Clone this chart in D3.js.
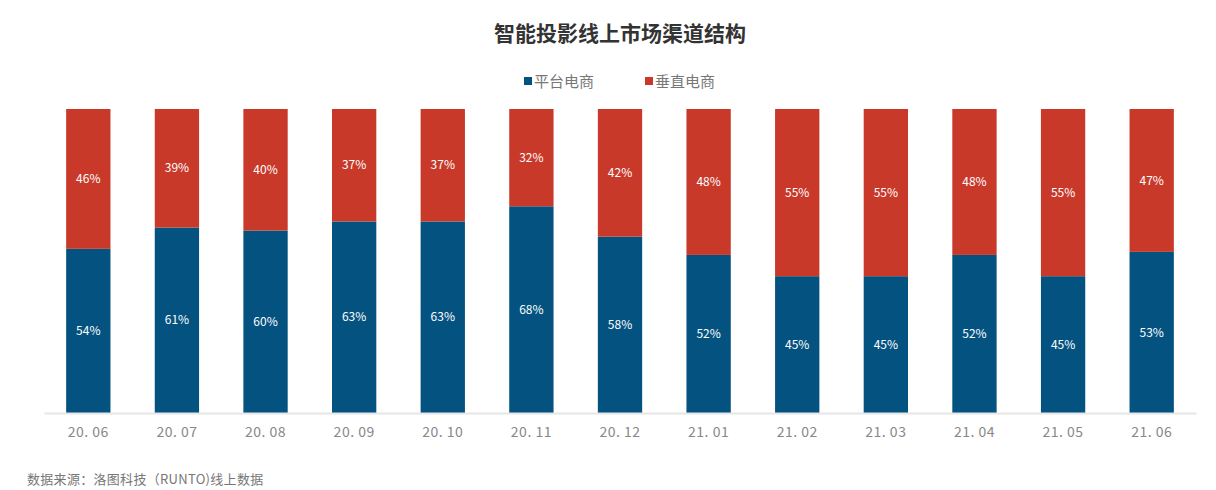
<!DOCTYPE html>
<html><head><meta charset="utf-8">
<script src="https://cdn.jsdelivr.net/npm/d3@7/dist/d3.min.js"></script>
<style>body{margin:0;background:#fff;}svg{display:block;}</style>
</head><body><svg id="c" width="1216" height="490"></svg>
<script>
const categories = ["20.06","20.07","20.08","20.09","20.10","20.11","20.12","21.01","21.02","21.03","21.04","21.05","21.06"];
const platform = [54,61,60,63,63,68,58,52,45,45,52,45,53];
const vertical = [46,39,40,37,37,32,42,48,55,55,48,55,47];
const seriesNames = ["平台电商","垂直电商"];
const colors = ["#04527f","#c8392a"];

const svg = d3.select("#c");
const font = "'Noto Sans CJK SC', 'Noto Sans', sans-serif";
const m = {l:44, r:20, t:109, b:77};
const W = 1216, H = 490;
const x = d3.scaleBand().domain(categories).range([m.l, W - m.r]).paddingInner(0.5).paddingOuter(0.25);
const y = d3.scaleLinear().domain([0,100]).range([H - m.b, m.t]);

svg.append("text").attr("x", 620).attr("y", 41).attr("text-anchor","middle")
  .attr("font-family", font).attr("font-size", 21).attr("font-weight","bold").attr("fill","#333")
  .text("智能投影线上市场渠道结构");

// legend
const leg = [{n:seriesNames[0], c:colors[0], x:524},{n:seriesNames[1], c:colors[1], x:645}];
leg.forEach(d=>{
  svg.append("rect").attr("x", d.x).attr("y", 77).attr("width", 8).attr("height", 8).attr("fill", d.c);
  svg.append("text").attr("x", d.x+10).attr("y", 87).attr("font-family", font).attr("font-size", 15)
    .attr("fill","#777").text(d.n);
});

const stack = categories.map((c,i)=>({c, a:platform[i], b:vertical[i]}));
const g = svg.append("g");
stack.forEach(d=>{
  g.append("rect").attr("x", x(d.c)).attr("width", x.bandwidth())
    .attr("y", y(d.a)).attr("height", y(0)-y(d.a)).attr("fill", colors[0]);
  g.append("rect").attr("x", x(d.c)).attr("width", x.bandwidth())
    .attr("y", y(d.a+d.b)).attr("height", y(d.a)-y(d.a+d.b)).attr("fill", colors[1]);
  g.append("text").attr("x", x(d.c)+x.bandwidth()/2).attr("y", (y(0)+y(d.a))/2).attr("dy","0.35em")
    .attr("text-anchor","middle").attr("font-family", font).attr("font-size", 12).attr("fill","#fff").text(d.a+"%");
  g.append("text").attr("x", x(d.c)+x.bandwidth()/2).attr("y", (y(d.a)+y(d.a+d.b))/2).attr("dy","0.35em")
    .attr("text-anchor","middle").attr("font-family", font).attr("font-size", 12).attr("fill","#fff").text(d.b+"%");
});

const ax = svg.append("g").attr("transform", `translate(0,${y(0)})`)
  .call(d3.axisBottom(x).tickSize(0).tickPadding(14));
ax.select(".domain").attr("stroke","#e6e6e6").attr("stroke-width",2);
ax.selectAll("text").attr("font-family", font).attr("font-size", 14).attr("fill","#888").attr("letter-spacing","0.5px")
  .text(d=>d.replace(".", ". "));

svg.append("text").attr("x", 27).attr("y", 484).attr("font-family", font).attr("font-size", 13)
  .attr("fill","#777").attr("letter-spacing","0.3px").text("数据来源：洛图科技（RUNTO)线上数据");
</script></body></html>
